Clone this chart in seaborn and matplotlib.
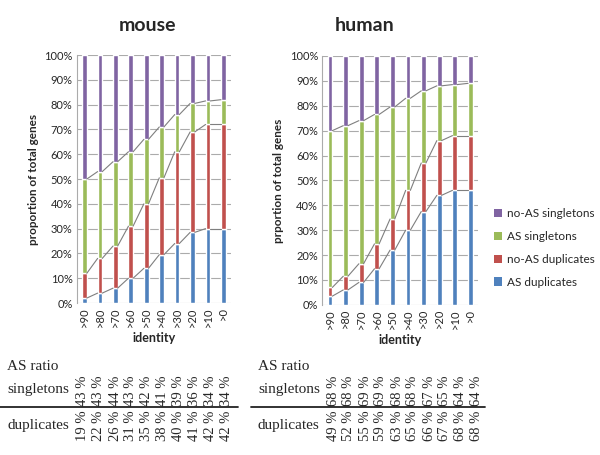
import matplotlib
matplotlib.use("Agg")
import matplotlib.pyplot as plt
import pandas as pd
import seaborn as sns
from matplotlib.lines import Line2D
from matplotlib.patches import Patch

identity = [">90", ">80", ">70", ">60", ">50", ">40", ">30", ">20", ">10", ">0"]

# cumulative tops (%) of each stacked segment
mouse_as_dup = [2, 4, 6, 10, 14, 19.5, 24, 28.5, 30, 30]
mouse_noas_dup = [12, 18, 23, 31, 40, 50.5, 61, 69, 72, 72]
mouse_as_single = [50, 53, 57, 61, 66, 71, 76, 80.5, 81.5, 82]

human_as_dup = [3.5, 6, 9, 14.5, 22, 30, 37.5, 44, 46, 46]
human_noas_dup = [7, 11.5, 16.5, 24.5, 34.5, 46, 57, 66, 68, 68]
human_as_single = [70, 72, 74, 76.5, 79.5, 83, 86, 88, 88.5, 89]

# AS ratio table below the charts
mouse_ratio_singletons = [43, 43, 44, 43, 42, 41, 39, 36, 34, 34]
mouse_ratio_duplicates = [19, 22, 26, 31, 35, 38, 40, 41, 42, 42]
human_ratio_singletons = [68, 68, 69, 69, 68, 68, 67, 65, 64, 64]
human_ratio_duplicates = [49, 52, 55, 59, 63, 65, 66, 67, 68, 68]

series_names = ["AS duplicates", "no-AS duplicates", "AS singletons", "no-AS singletons"]
colors = ["#4F81BD", "#C0504D", "#9BBB59", "#8064A2"]

sns.set_style("white")
plt.rcParams["font.family"] = ["Lato", "DejaVu Sans"]

BAR_W = 0.3


def draw_stack(ax, tops, ylabel):
    bottoms = [[0] * len(identity)] + tops
    full = tops + [[100] * len(identity)]
    for bottom, top, color in zip(bottoms, full, colors):
        seg = [t - b for t, b in zip(top, bottom)]
        df = pd.DataFrame({"identity": identity, "value": seg})
        sns.barplot(data=df, x="identity", y="value", order=identity, bottom=bottom,
                    color=color, width=BAR_W, saturation=1, ax=ax, zorder=3)
    # Excel-style series lines between neighbouring bars
    for top in tops:
        for i in range(len(identity) - 1):
            ax.plot([i + BAR_W / 2, i + 1 - BAR_W / 2], [top[i], top[i + 1]],
                    color="#7F7F7F", lw=0.8, zorder=4)
    ax.set_ylim(0, 100)
    ax.set_xlim(-0.5, len(identity) - 0.5)
    ax.set_yticks(range(0, 101, 10))
    ax.set_yticklabels([f"{v}%" for v in range(0, 101, 10)], fontsize=8)
    ax.tick_params(axis="x", labelrotation=90, labelsize=8, length=0, pad=3)
    ax.tick_params(axis="y", length=0, pad=3)
    ax.grid(axis="y", color="#ABABAB", lw=0.8, zorder=0)
    ax.set_axisbelow(True)
    for side in ["top", "right", "bottom"]:
        ax.spines[side].set_visible(False)
    ax.spines["left"].set_color("#ABABAB")
    ax.set_xlabel("identity", fontsize=9, fontweight="bold", labelpad=4)
    ax.set_ylabel(ylabel, fontsize=8.5, fontweight="bold", labelpad=4)


fig = plt.figure(figsize=(6, 4.55), dpi=100)
ax_m = fig.add_axes([0.128, 0.334, 0.257, 0.545])
ax_h = fig.add_axes([0.537, 0.330, 0.260, 0.547])

draw_stack(ax_m, [mouse_as_dup, mouse_noas_dup, mouse_as_single], "proportion of total genes")
draw_stack(ax_h, [human_as_dup, human_noas_dup, human_as_single], "prportion of total genes")

fig.text(0.245, 0.945, "mouse", ha="center", va="center", fontsize=14, fontweight="bold")
fig.text(0.608, 0.945, "human", ha="center", va="center", fontsize=14, fontweight="bold")

handles = [Patch(facecolor=c, edgecolor="none", label=n) for n, c in zip(series_names, colors)][::-1]
fig.legend(handles=handles, loc="center left", bbox_to_anchor=(0.805, 0.455), frameon=False,
           fontsize=8.5, handlelength=0.7, handleheight=0.7, handletextpad=0.4, labelspacing=1.0)

# AS ratio table
serif = ["Liberation Serif", "DejaVu Serif"]


def draw_table(x0, x_line_end, col_x, singles, dups):
    fig.text(x0, 1 - 367 / 455, "AS ratio", family=serif, fontsize=11, va="center")
    fig.text(x0, 1 - 390 / 455, "singletons", family=serif, fontsize=11, va="center")
    fig.text(x0, 1 - 425 / 455, "duplicates", family=serif, fontsize=11, va="center")
    fig.add_artist(Line2D([x0 - 0.012, x_line_end], [1 - 407 / 455] * 2, color="#222222", lw=1.3))
    step = (col_x[1] - col_x[0]) / (len(identity) - 1)
    for i, (s, d) in enumerate(zip(singles, dups)):
        x = col_x[0] + i * step
        fig.text(x, 1 - 391 / 455, f"{s} %", family=serif, fontsize=10.5, rotation=90,
                 ha="center", va="center")
        fig.text(x, 1 - 426 / 455, f"{d} %", family=serif, fontsize=10.5, rotation=90,
                 ha="center", va="center")


draw_table(0.012, 0.397, (83 / 600, 227 / 600), mouse_ratio_singletons, mouse_ratio_duplicates)
draw_table(0.430, 0.808, (333 / 600, 477 / 600), human_ratio_singletons, human_ratio_duplicates)

fig.savefig("out.png", dpi=100, facecolor="white")
